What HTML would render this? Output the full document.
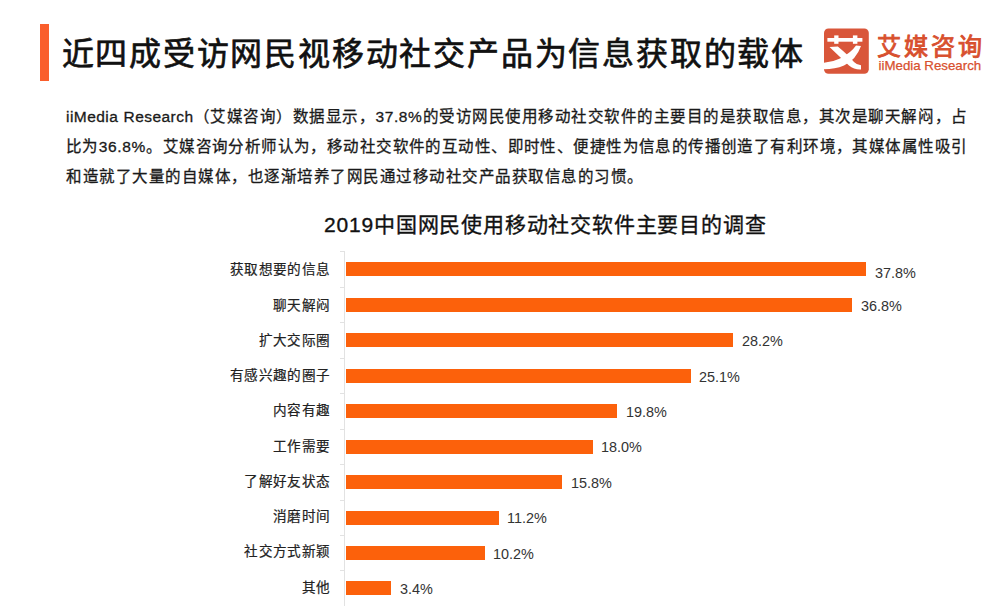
<!DOCTYPE html>
<html lang="zh-CN"><head><meta charset="utf-8">
<style>
*{margin:0;padding:0;box-sizing:border-box}
html,body{width:1000px;height:606px;overflow:hidden;background:#fff}
body{position:relative;font-family:"Liberation Sans",sans-serif;color:#222}
.abs{position:absolute;white-space:nowrap}
#tbar{left:40px;top:24px;width:9px;height:57px;background:#fa5e2c}
#title{left:61.5px;top:30px;font-size:32px;line-height:48px;letter-spacing:1.8px;color:#111;-webkit-text-stroke:0.65px #111}
#logo{left:824px;top:28px;width:45px;height:46px}
#lcn{left:877px;top:29px;font-size:24px;line-height:36px;letter-spacing:2.9px;-webkit-text-stroke:0.9px #d8502e;color:#d8502e}
#len{left:878.5px;top:57px;font-size:13.3px;line-height:18px;color:#d8502e;-webkit-text-stroke:0.25px #d8502e}
.p{left:66px;font-size:15.5px;line-height:30px;color:#1a1a1a;-webkit-text-stroke:0.3px #1a1a1a;letter-spacing:0.5px}
.l{letter-spacing:0.45px}
.l2{letter-spacing:0.6px}
.j{width:901px;text-align:justify;text-align-last:justify;letter-spacing:0}
#ctitle{left:324px;top:207px;font-size:21px;line-height:36px;letter-spacing:0.8px;color:#111;-webkit-text-stroke:0.35px #111}
.lab{right:669.8px;font-size:13.6px;line-height:20px;color:#222;text-align:right;letter-spacing:0.3px;-webkit-text-stroke:0.2px #222}
.bar{left:346px;height:14px;background:#fc610b}
.val{font-size:15.5px;line-height:20px;color:#333;transform:scaleX(0.93);transform-origin:0 0}
#axis{left:344px;top:251px;width:1px;height:355px;background:#e2e2e2}
.tick{left:340px;width:4px;height:1px;background:#e2e2e2}
</style></head><body>
<div id="tbar" class="abs"></div>
<div id="title" class="abs">近四成受访网民视移动社交产品为信息获取的载体</div>
<svg id="logo" class="abs" viewBox="0 0 45 46">
<rect x="0" y="0.5" width="44.8" height="45.2" rx="4.5" fill="#d9563a"/>
<rect x="3.4" y="10" width="35" height="3.7" fill="#fff"/>
<rect x="10.2" y="7.4" width="4.3" height="8.4" fill="#fff"/>
<rect x="28.9" y="7.4" width="4.5" height="8.4" fill="#fff"/>
<path fill="#fff" d="M5.5 19 L13.8 18.6 Q24 27 30 34 Q33 37.2 37 37.2 L37 41.5 Q30 41.8 25 37.5 Q16 29 5.5 19Z"/>
<path fill="#fff" d="M32 17.6 L37 18 Q32 32 20 37.5 Q11 41.3 0 41.3 L0 34.8 Q9 34 16 30.5 Q27 25 32 17.6Z"/>
</svg>
<div id="lcn" class="abs">艾媒咨询</div>
<div id="len" class="abs">iiMedia Research</div>
<div class="abs p j" style="top:102.3px"><span class="l">iiMedia Research</span>（艾媒咨询）数据显示，<span class="l2">37.8%</span>的受访网民使用移动社交软件的主要目的是获取信息，其次是聊天解闷，占</div>
<div class="abs p j" style="top:132.3px">比为<span class="l2">36.8%</span>。艾媒咨询分析师认为，移动社交软件的互动性、即时性、便捷性为信息的传播创造了有利环境，其媒体属性吸引</div>
<div class="abs p" style="top:162.3px">和造就了大量的自媒体，也逐渐培养了网民通过移动社交产品获取信息的习惯。</div>
<div id="ctitle" class="abs">2019中国网民使用移动社交软件主要目的调查</div>
<div id="axis" class="abs"></div>
<div class="abs tick" style="top:251.4px"></div>
<div class="abs lab" style="top:260.3px">获取想要的信息</div>
<div class="abs bar" style="top:262.4px;width:520.0px"></div>
<div class="abs val" style="left:874.5px;top:263.0px">37.8%</div>
<div class="abs tick" style="top:286.8px"></div>
<div class="abs lab" style="top:295.5px">聊天解闷</div>
<div class="abs bar" style="top:297.8px;width:506.2px"></div>
<div class="abs val" style="left:860.7px;top:295.6px">36.8%</div>
<div class="abs tick" style="top:322.3px"></div>
<div class="abs lab" style="top:330.8px">扩大交际圈</div>
<div class="abs bar" style="top:333.3px;width:387.4px"></div>
<div class="abs val" style="left:741.9px;top:331.1px">28.2%</div>
<div class="abs tick" style="top:357.7px"></div>
<div class="abs lab" style="top:366.0px">有感兴趣的圈子</div>
<div class="abs bar" style="top:368.7px;width:344.6px"></div>
<div class="abs val" style="left:699.1px;top:366.5px">25.1%</div>
<div class="abs tick" style="top:393.2px"></div>
<div class="abs lab" style="top:401.3px">内容有趣</div>
<div class="abs bar" style="top:404.2px;width:271.4px"></div>
<div class="abs val" style="left:625.9px;top:402.0px">19.8%</div>
<div class="abs tick" style="top:428.6px"></div>
<div class="abs lab" style="top:436.5px">工作需要</div>
<div class="abs bar" style="top:439.6px;width:246.6px"></div>
<div class="abs val" style="left:601.1px;top:437.4px">18.0%</div>
<div class="abs tick" style="top:464.0px"></div>
<div class="abs lab" style="top:471.8px">了解好友状态</div>
<div class="abs bar" style="top:475.0px;width:216.2px"></div>
<div class="abs val" style="left:570.7px;top:472.8px">15.8%</div>
<div class="abs tick" style="top:499.5px"></div>
<div class="abs lab" style="top:507.0px">消磨时间</div>
<div class="abs bar" style="top:510.5px;width:152.7px"></div>
<div class="abs val" style="left:507.2px;top:508.3px">11.2%</div>
<div class="abs tick" style="top:534.9px"></div>
<div class="abs lab" style="top:542.3px">社交方式新颖</div>
<div class="abs bar" style="top:545.9px;width:138.9px"></div>
<div class="abs val" style="left:493.4px;top:543.7px">10.2%</div>
<div class="abs tick" style="top:570.4px"></div>
<div class="abs lab" style="top:577.5px">其他</div>
<div class="abs bar" style="top:581.4px;width:45.0px"></div>
<div class="abs val" style="left:399.5px;top:579.2px">3.4%</div>
<div class="abs tick" style="top:605.8px"></div>
</body></html>
